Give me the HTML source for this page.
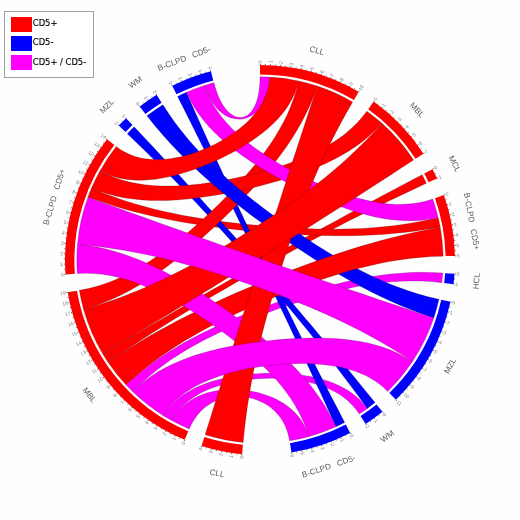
<!DOCTYPE html>
<html lang="en">
<head>
<meta charset="utf-8">
<title>Chord diagram</title>
<style>
html,body{margin:0;padding:0;background:#fff;}
body{width:520px;height:520px;overflow:hidden;position:relative;font-family:"Liberation Sans",sans-serif;}
svg{position:absolute;left:0;top:0;display:block;}
.tk text{font:5px "Liberation Sans",sans-serif;fill:#82828e;}
.lab text{font:8.2px "Liberation Sans",sans-serif;fill:#5c5c5c;}
.legend{position:absolute;left:4.2px;top:10.5px;width:87.4px;height:65.2px;border:1px solid #a0a0a0;background:#fff;box-sizing:content-box;}
.legend .sw{position:absolute;left:6.0px;width:20.6px;height:15px;}
.legend .lb{position:absolute;left:27.6px;font:8.4px "DejaVu Sans","Liberation Sans",sans-serif;color:#000;-webkit-text-stroke:.15px #000;line-height:15px;white-space:nowrap;}
</style>
</head>
<body>
<svg width="520" height="520" viewBox="0 0 520 520">
<rect width="520" height="520" fill="#fefefe"/>
<g class="rib" stroke="#000" stroke-opacity=".55" stroke-width=".35" stroke-linejoin="round">
<path d="M260 76.8A183.2 183.2 0 0 1 269.71 77.06L269.38 81.4 268.84 85.48 268.12 89.32 267.23 92.91 266.18 96.26 264.97 99.37 263.61 102.25 262.12 104.89 260.5 107.31 258.77 109.5 256.94 111.46 255.01 113.2 252.99 114.72 250.9 116.01 248.74 117.09 246.52 117.94 244.26 118.57 241.96 118.98 239.63 119.16 237.28 119.12 234.92 118.85 232.56 118.36 230.21 117.63 227.88 116.67 225.57 115.47 223.3 114.03 221.08 112.35 218.9 110.42 216.8 108.23 214.76 105.79 212.8 103.09 210.94 100.11 209.17 96.86 207.51 93.33 205.97 89.51 204.55 85.39A183.2 183.2 0 0 1 213.88 82.7L215.03 86.8 216.26 90.62 217.56 94.17 218.93 97.45 220.36 100.47 221.85 103.22 223.39 105.73 224.97 107.98 226.59 109.99 228.24 111.75 229.91 113.27 231.61 114.56 233.31 115.61 235.02 116.42 236.72 117.01 238.42 117.36 240.1 117.49 241.76 117.4 243.39 117.07 244.98 116.52 246.53 115.75 248.04 114.76 249.48 113.54 250.87 112.09 252.18 110.42 253.42 108.53 254.57 106.41 255.63 104.06 256.6 101.48 257.46 98.67 258.2 95.62 258.83 92.34 259.33 88.82 259.7 85.06 259.92 81.06 260 76.8Z" fill="#ff00ff"/>
<path d="M422.1 174.65A183.2 183.2 0 0 1 426.4 183.36L413.19 189.5 400.71 195.39 388.91 201.06 377.74 206.5 367.17 211.73 357.14 216.77 347.61 221.61 338.54 226.29 329.88 230.8 321.6 235.16 313.65 239.39 305.98 243.51 298.57 247.53 291.36 251.46 284.31 255.33 277.4 259.16 270.57 262.95 263.79 266.75 257.01 270.56 250.21 274.41 243.34 278.31 236.36 282.31 229.25 286.41 221.95 290.64 214.45 295.03 206.69 299.61 198.65 304.41 190.28 309.44 181.57 314.75 172.46 320.35 162.94 326.29 152.96 332.58 142.49 339.27 131.5 346.39 119.97 353.97 107.85 362.04A183.2 183.2 0 0 1 102.65 353.83L115.65 346.09 127.94 338.82 139.55 331.97 150.53 325.53 160.92 319.46 170.76 313.74 180.09 308.34 188.95 303.22 197.39 298.37 205.45 293.76 213.17 289.35 220.58 285.13 227.75 281.06 234.7 277.13 241.48 273.3 248.13 269.55 254.7 265.85 261.23 262.19 267.76 258.53 274.34 254.85 281.01 251.13 287.81 247.34 294.79 243.46 301.99 239.47 309.46 235.34 317.25 231.05 325.39 226.58 333.92 221.91 342.91 217.01 352.39 211.87 362.4 206.46 372.99 200.75 384.21 194.74 396.11 188.4 408.72 181.71 422.1 174.65Z" fill="#ff0000"/>
<path d="M438.24 217.64A183.2 183.2 0 0 1 440.23 227.15L427.83 229.26 415.86 231 404.3 232.42 393.13 233.54 382.31 234.4 371.82 235.03 361.64 235.46 351.73 235.7 342.08 235.79 332.65 235.74 323.42 235.57 314.37 235.3 305.47 234.94 296.7 234.5 288.03 233.99 279.43 233.42 270.89 232.78 262.38 232.09 253.87 231.33 245.34 230.51 236.77 229.63 228.14 228.66 219.42 227.61 210.58 226.46 201.62 225.2 192.5 223.81 183.2 222.26 173.7 220.54 163.97 218.62 154.01 216.48 143.78 214.09 133.26 211.41 122.44 208.42 111.29 205.07 99.79 201.33 87.92 197.15A183.2 183.2 0 0 1 91.49 188.12L102.62 192.67 113.48 196.75 124.08 200.4 134.44 203.66 144.57 206.57 154.49 209.17 164.22 211.5 173.77 213.57 183.15 215.43 192.38 217.1 201.48 218.6 210.47 219.95 219.36 221.18 228.16 222.29 236.9 223.3 245.59 224.23 254.26 225.08 262.91 225.85 271.56 226.55 280.25 227.18 288.97 227.74 297.76 228.22 306.62 228.61 315.59 228.9 324.67 229.09 333.9 229.15 343.28 229.06 352.84 228.82 362.6 228.39 372.58 227.74 382.8 226.86 393.28 225.7 404.04 224.24 415.11 222.43 426.5 220.25 438.24 217.64Z" fill="#ff0000"/>
<path d="M442.74 273.01A183.2 183.2 0 0 1 441.79 282.68L431.31 281.61 421.08 281.03 411.07 280.89 401.27 281.14 391.66 281.75 382.23 282.68 372.95 283.89 363.8 285.36 354.79 287.05 345.88 288.95 337.07 291.02 328.36 293.24 319.71 295.61 311.14 298.1 302.62 300.7 294.15 303.41 285.73 306.22 277.34 309.12 268.99 312.13 260.67 315.23 252.38 318.44 244.12 321.76 235.88 325.2 227.67 328.79 219.48 332.53 211.33 336.45 203.21 340.57 195.13 344.92 187.09 349.51 179.11 354.4 171.18 359.6 163.32 365.16 155.53 371.11 147.84 377.5 140.24 384.38 132.75 391.79A183.2 183.2 0 0 1 125.94 384.86L134.19 377.48 142.46 370.63 150.75 364.27 159.06 358.35 167.37 352.84 175.68 347.68 183.98 342.84 192.29 338.3 200.58 334 208.87 329.93 217.15 326.06 225.42 322.37 233.7 318.83 241.97 315.42 250.24 312.14 258.53 308.96 266.83 305.89 275.15 302.9 283.5 300 291.89 297.18 300.33 294.46 308.83 291.81 317.41 289.27 326.07 286.83 334.83 284.51 343.7 282.33 352.71 280.29 361.86 278.42 371.18 276.75 380.68 275.3 390.39 274.1 400.32 273.17 410.5 272.56 420.94 272.31 431.68 272.44 442.74 273.01Z" fill="#ff00ff"/>
<path d="M367.3 408.49A183.2 183.2 0 0 1 359.28 413.97L355.9 409.22 352.19 404.91 348.18 401.01 343.87 397.5 339.3 394.35 334.47 391.54 329.41 389.05 324.14 386.86 318.68 384.95 313.05 383.31 307.26 381.92 301.34 380.78 295.31 379.86 289.19 379.17 282.99 378.69 276.74 378.41 270.45 378.33 264.15 378.45 257.86 378.77 251.6 379.29 245.38 380 239.23 380.92 233.17 382.04 227.21 383.38 221.39 384.93 215.71 386.72 210.21 388.75 204.9 391.03 199.79 393.59 194.92 396.43 190.3 399.57 185.96 403.03 181.91 406.84 178.18 411.01 174.78 415.57 171.74 420.54A183.2 183.2 0 0 1 163.35 415.63L166.84 410.55 170.68 405.91 174.87 401.69 179.37 397.84 184.16 394.36 189.24 391.21 194.56 388.37 200.12 385.83 205.89 383.56 211.86 381.54 217.99 379.77 224.27 378.23 230.69 376.91 237.21 375.79 243.82 374.88 250.5 374.17 257.22 373.65 263.97 373.32 270.73 373.17 277.47 373.22 284.18 373.47 290.84 373.92 297.43 374.57 303.91 375.44 310.29 376.54 316.53 377.87 322.62 379.46 328.54 381.33 334.26 383.48 339.78 385.93 345.06 388.72 350.08 391.86 354.84 395.38 359.31 399.3 363.47 403.66 367.3 408.49Z" fill="#ff00ff"/>
<path d="M375.03 402.59A183.2 183.2 0 0 1 367.3 408.49L358.81 396.83 350.67 385.82 342.86 375.43 335.37 365.61 328.19 356.32 321.29 347.52 314.66 339.17 308.27 331.23 302.11 323.65 296.16 316.4 290.39 309.45 284.79 302.75 279.32 296.28 273.97 289.98 268.71 283.83 263.51 277.8 258.35 271.84 253.2 265.94 248.04 260.04 242.83 254.13 237.55 248.17 232.17 242.13 226.65 235.98 220.97 229.69 215.08 223.23 208.97 216.58 202.59 209.71 195.91 202.59 188.9 195.19 181.51 187.5 173.72 179.48 165.48 171.11 156.76 162.37 147.51 153.24 137.7 143.69 127.29 133.71A183.2 183.2 0 0 1 134.17 126.85L144.45 137.76 154.14 148.1 163.26 157.9 171.85 167.2 179.96 176.01 187.62 184.38 194.86 192.34 201.73 199.92 208.25 207.16 214.46 214.09 220.4 220.74 226.11 227.15 231.6 233.35 236.93 239.37 242.12 245.26 247.2 251.04 252.22 256.76 257.19 262.45 262.16 268.15 267.15 273.88 272.2 279.7 277.34 285.64 282.59 291.72 288 298 293.58 304.52 299.37 311.3 305.4 318.38 311.7 325.82 318.29 333.64 325.2 341.89 332.47 350.6 340.11 359.82 348.16 369.59 356.65 379.95 365.59 390.93 375.03 402.59Z" fill="#0000ff"/>
<path d="M344.68 422.45A183.2 183.2 0 0 1 335.95 426.71L329.64 412.88 323.66 399.85 318.01 387.56 312.65 375.96 307.58 365.02 302.77 354.69 298.2 344.91 293.86 335.64 289.72 326.83 285.77 318.45 281.98 310.43 278.34 302.74 274.82 295.32 271.4 288.14 268.07 281.14 264.79 274.28 261.55 267.51 258.34 260.8 255.11 254.08 251.87 247.32 248.57 240.47 245.2 233.49 241.74 226.33 238.17 218.94 234.45 211.28 230.57 203.31 226.51 194.97 222.23 186.23 217.72 177.04 212.96 167.36 207.91 157.14 202.56 146.33 196.87 134.9 190.83 122.79 184.41 109.97 177.58 96.39A183.2 183.2 0 0 1 186.37 92.25L192.44 106.02 198.21 119.02 203.68 131.28 208.89 142.86 213.84 153.79 218.55 164.13 223.03 173.92 227.32 183.21 231.41 192.05 235.33 200.48 239.1 208.54 242.74 216.29 246.27 223.76 249.7 231.01 253.05 238.07 256.35 245 259.61 251.84 262.86 258.63 266.12 265.41 269.41 272.24 272.74 279.15 276.15 286.19 279.65 293.4 283.27 300.83 287.03 308.51 290.96 316.5 295.07 324.84 299.4 333.57 303.96 342.72 308.79 352.35 313.9 362.5 319.33 373.21 325.09 384.51 331.22 396.46 337.74 409.09 344.68 422.45Z" fill="#0000ff"/>
<path d="M298.58 80.91A183.2 183.2 0 0 1 317.33 86L313.88 95.68 310.07 104.93 305.95 113.8 301.53 122.33 296.85 130.54 291.94 138.47 286.82 146.15 281.52 153.6 276.04 160.84 270.43 167.91 264.68 174.82 258.81 181.58 252.84 188.22 246.78 194.75 240.63 201.18 234.4 207.51 228.1 213.76 221.72 219.93 215.27 226.02 208.74 232.03 202.12 237.96 195.42 243.81 188.63 249.56 181.72 255.22 174.69 260.77 167.53 266.2 160.21 271.49 152.72 276.62 145.04 281.58 137.14 286.35 128.99 290.89 120.57 295.18 111.85 299.21 102.8 302.92 93.38 306.3 83.56 309.3A183.2 183.2 0 0 1 79.33 290.34L88.4 288.53 97.16 286.24 105.63 283.51 113.84 280.38 121.83 276.87 129.6 273.04 137.19 268.9 144.61 264.48 151.89 259.83 159.03 254.95 166.05 249.87 172.96 244.62 179.77 239.21 186.49 233.65 193.12 227.97 199.66 222.18 206.12 216.27 212.5 210.27 218.79 204.18 224.98 197.99 231.07 191.72 237.05 185.36 242.9 178.9 248.62 172.35 254.18 165.68 259.57 158.9 264.77 151.99 269.76 144.94 274.51 137.73 278.99 130.34 283.18 122.74 287.05 114.93 290.55 106.87 293.67 98.53 296.36 89.89 298.58 80.91Z" fill="#ff0000"/>
<path d="M366.84 111.18A183.2 183.2 0 0 1 382 123.33L375.79 129.85 369.33 135.85 362.63 141.38 355.71 146.47 348.59 151.16 341.29 155.5 333.81 159.52 326.18 163.25 318.41 166.73 310.52 169.97 302.51 173 294.41 175.83 286.21 178.5 277.94 181.01 269.61 183.37 261.22 185.59 252.78 187.68 244.31 189.64 235.8 191.46 227.28 193.16 218.74 194.71 210.19 196.12 201.64 197.36 193.09 198.43 184.55 199.3 176.01 199.96 167.49 200.39 158.98 200.54 150.49 200.41 142.01 199.94 133.56 199.12 125.12 197.89 116.69 196.23 108.28 194.07 99.88 191.39 91.49 188.12A183.2 183.2 0 0 1 100.05 170.68L107.23 174.34 114.52 177.42 121.92 179.95 129.42 181.99 137.02 183.56 144.72 184.73 152.5 185.51 160.36 185.94 168.29 186.06 176.29 185.9 184.34 185.47 192.44 184.81 200.58 183.94 208.75 182.86 216.93 181.61 225.12 180.18 233.3 178.59 241.46 176.85 249.58 174.96 257.66 172.92 265.68 170.73 273.62 168.39 281.47 165.9 289.21 163.23 296.82 160.39 304.3 157.35 311.6 154.1 318.73 150.62 325.66 146.89 332.37 142.87 338.85 138.55 345.05 133.9 350.98 128.87 356.6 123.43 361.9 117.55 366.84 111.18Z" fill="#ff0000"/>
<path d="M432.75 199.01A183.2 183.2 0 0 1 438.24 217.64L430.05 219.28 421.92 220.33 413.85 220.83 405.82 220.83 397.83 220.37 389.86 219.5 381.92 218.24 374.01 216.64 366.11 214.72 358.23 212.52 350.37 210.06 342.53 207.37 334.72 204.46 326.92 201.37 319.16 198.1 311.44 194.68 303.77 191.11 296.15 187.39 288.59 183.55 281.12 179.58 273.73 175.48 266.45 171.26 259.28 166.91 252.25 162.42 245.38 157.78 238.68 152.99 232.18 148.04 225.89 142.89 219.83 137.54 214.05 131.96 208.55 126.14 203.36 120.04 198.53 113.63 194.06 106.89 190 99.77 186.37 92.25A183.2 183.2 0 0 1 204.55 85.39L207.09 92.41 210.13 99.07 213.63 105.42 217.56 111.48 221.88 117.28 226.57 122.83 231.59 128.17 236.93 133.3 242.54 138.24 248.41 143.02 254.51 147.63 260.82 152.1 267.31 156.42 273.96 160.61 280.76 164.65 287.69 168.57 294.71 172.34 301.83 175.98 309.02 179.47 316.27 182.8 323.57 185.96 330.89 188.95 338.24 191.74 345.61 194.31 352.97 196.66 360.33 198.74 367.68 200.55 375.01 202.05 382.32 203.21 389.6 204 396.86 204.4 404.09 204.35 411.29 203.83 418.47 202.8 425.62 201.2 432.75 199.01Z" fill="#ff00ff"/>
<path d="M438.93 299.32A183.2 183.2 0 0 1 433.76 318.04L422.15 313.99 411.07 309.79 400.49 305.48 390.36 301.06 380.66 296.55 371.33 291.98 362.36 287.35 353.69 282.68 345.31 277.97 337.18 273.24 329.27 268.48 321.56 263.71 314.01 258.91 306.6 254.1 299.31 249.26 292.11 244.4 285 239.5 277.93 234.56 270.91 229.57 263.91 224.51 256.91 219.37 249.91 214.13 242.89 208.77 235.83 203.27 228.74 197.6 221.61 191.75 214.41 185.68 207.17 179.37 199.86 172.78 192.48 165.88 185.04 158.63 177.54 151 169.98 142.95 162.36 134.43 154.68 125.41 146.97 115.83A183.2 183.2 0 0 1 162.87 104.67L168.99 114.05 175.25 122.92 181.65 131.31 188.16 139.28 194.77 146.86 201.46 154.08 208.22 161 215.03 167.63 221.9 174.01 228.82 180.17 235.77 186.14 242.75 191.93 249.76 197.57 256.8 203.08 263.88 208.47 270.98 213.77 278.13 218.97 285.32 224.09 292.56 229.14 299.86 234.12 307.23 239.04 314.69 243.89 322.24 248.68 329.91 253.39 337.71 258.02 345.66 262.56 353.79 267 362.11 271.33 370.64 275.52 379.43 279.57 388.48 283.44 397.84 287.12 407.53 290.57 417.58 293.78 428.04 296.71 438.93 299.32Z" fill="#0000ff"/>
<path d="M308.57 436.64A183.2 183.2 0 0 1 289.6 440.79L288.69 436.26 287.51 432.01 286.08 428.02 284.41 424.3 282.51 420.83 280.4 417.62 278.1 414.64 275.61 411.9 272.95 409.4 270.15 407.12 267.2 405.07 264.13 403.24 260.95 401.63 257.67 400.23 254.32 399.06 250.89 398.1 247.41 397.36 243.9 396.83 240.35 396.53 236.8 396.44 233.24 396.58 229.7 396.94 226.19 397.54 222.73 398.36 219.32 399.43 215.97 400.74 212.71 402.31 209.55 404.13 206.49 406.21 203.56 408.57 200.76 411.21 198.11 414.14 195.62 417.38 193.3 420.92 191.17 424.78 189.24 428.98A183.2 183.2 0 0 1 171.74 420.54L174.35 416.24 177.21 412.32 180.31 408.76 183.64 405.56 187.18 402.69 190.9 400.14 194.8 397.9 198.87 395.94 203.07 394.27 207.41 392.86 211.85 391.72 216.39 390.82 221.01 390.16 225.69 389.73 230.41 389.53 235.16 389.55 239.92 389.79 244.67 390.25 249.4 390.91 254.08 391.78 258.71 392.86 263.25 394.15 267.7 395.65 272.04 397.37 276.25 399.29 280.31 401.44 284.2 403.82 287.9 406.42 291.4 409.27 294.67 412.36 297.71 415.7 300.48 419.31 302.97 423.2 305.16 427.38 307.04 431.85 308.57 436.64Z" fill="#ff00ff"/>
<path d="M269.71 77.06A183.2 183.2 0 0 1 298.58 80.91L296.94 87.17 294.79 93.13 292.16 98.82 289.1 104.26 285.63 109.47 281.77 114.46 277.56 119.25 273.02 123.85 268.19 128.27 263.08 132.53 257.72 136.62 252.14 140.56 246.36 144.34 240.41 147.98 234.3 151.47 228.05 154.8 221.69 157.98 215.24 161 208.71 163.85 202.12 166.53 195.49 169.02 188.83 171.3 182.17 173.37 175.51 175.21 168.87 176.8 162.26 178.12 155.69 179.14 149.17 179.85 142.72 180.22 136.34 180.22 130.05 179.82 123.84 178.99 117.74 177.69 111.73 175.9 105.83 173.58 100.05 170.68A183.2 183.2 0 0 1 116.23 146.46L120.68 149.66 125.28 152.37 130 154.6 134.85 156.39 139.81 157.76 144.87 158.74 150.02 159.35 155.25 159.62 160.54 159.55 165.89 159.18 171.28 158.52 176.7 157.59 182.13 156.4 187.56 154.97 192.98 153.32 198.36 151.45 203.69 149.37 208.95 147.1 214.13 144.65 219.21 142.02 224.17 139.21 228.99 136.24 233.65 133.11 238.13 129.81 242.4 126.36 246.46 122.75 250.27 118.98 253.82 115.04 257.08 110.94 260.02 106.67 262.63 102.23 264.87 97.6 266.73 92.78 268.17 87.75 269.17 82.52 269.71 77.06Z" fill="#ff0000"/>
<path d="M440.23 227.15A183.2 183.2 0 0 1 443.16 256.13L431.62 256.57 420.48 257.38 409.71 258.51 399.28 259.93 389.15 261.61 379.31 263.52 369.72 265.63 360.37 267.92 351.23 270.36 342.27 272.94 333.48 275.63 324.84 278.43 316.31 281.32 307.9 284.29 299.58 287.34 291.32 290.46 283.13 293.65 274.98 296.91 266.86 300.25 258.76 303.67 250.67 307.19 242.57 310.8 234.47 314.53 226.34 318.4 218.19 322.42 210.01 326.61 201.79 331.01 193.53 335.63 185.23 340.5 176.89 345.67 168.5 351.16 160.06 357.01 151.59 363.26 143.07 369.95 134.52 377.14 125.94 384.86A183.2 183.2 0 0 1 107.85 362.04L118.89 354.77 129.58 348.01 139.94 341.71 149.97 335.82 159.71 330.32 169.16 325.16 178.34 320.32 187.28 315.75 195.99 311.43 204.5 307.33 212.82 303.43 220.99 299.69 229.02 296.09 236.93 292.62 244.76 289.26 252.52 285.98 260.24 282.76 267.96 279.61 275.69 276.49 283.47 273.41 291.32 270.36 299.28 267.32 307.37 264.3 315.64 261.28 324.1 258.27 332.79 255.27 341.75 252.28 351.01 249.31 360.6 246.36 370.56 243.43 380.93 240.55 391.75 237.71 403.05 234.94 414.87 232.24 427.25 229.64 440.23 227.15Z" fill="#ff0000"/>
<path d="M335.95 426.71A183.2 183.2 0 0 1 308.57 436.64L306.06 428.62 303.06 420.93 299.6 413.55 295.73 406.46 291.48 399.61 286.88 393 281.96 386.59 276.74 380.36 271.27 374.31 265.55 368.41 259.62 362.64 253.5 357.01 247.21 351.49 240.76 346.09 234.18 340.8 227.47 335.62 220.66 330.55 213.75 325.59 206.77 320.75 199.7 316.04 192.57 311.46 185.37 307.04 178.12 302.78 170.81 298.7 163.45 294.83 156.03 291.18 148.55 287.78 141 284.66 133.39 281.84 125.7 279.35 117.92 277.24 110.05 275.53 102.07 274.27 93.96 273.5 85.71 273.25 77.3 273.58A183.2 183.2 0 0 1 77.46 244.46L87.29 245.56 96.81 247.12 106.06 249.12 115.05 251.5 123.82 254.23 132.38 257.28 140.77 260.61 148.99 264.2 157.06 268.01 165.01 272.02 172.84 276.22 180.57 280.58 188.2 285.08 195.75 289.71 203.22 294.45 210.63 299.31 217.96 304.26 225.23 309.32 232.43 314.47 239.56 319.71 246.62 325.05 253.6 330.49 260.5 336.05 267.3 341.73 274 347.55 280.58 353.51 287.03 359.65 293.33 365.97 299.47 372.51 305.42 379.29 311.17 386.33 316.69 393.67 321.95 401.35 326.94 409.38 331.61 417.83 335.95 426.71Z" fill="#ff00ff"/>
<path d="M317.33 86A183.2 183.2 0 0 1 352.68 101.97L346.18 113.31 340.16 124.29 334.58 134.93 329.4 145.24 324.58 155.25 320.09 164.97 315.9 174.43 311.96 183.63 308.27 192.61 304.78 201.39 301.47 209.98 298.31 218.41 295.3 226.7 292.4 234.88 289.59 242.97 286.87 251 284.22 258.98 281.63 266.96 279.09 274.95 276.58 282.99 274.11 291.09 271.67 299.3 269.25 307.63 266.87 316.13 264.51 324.82 262.19 333.73 259.91 342.89 257.68 352.34 255.5 362.11 253.39 372.24 251.37 382.75 249.45 393.69 247.64 405.09 245.97 416.99 244.46 429.42 243.13 442.42A183.2 183.2 0 0 1 205.1 434.78L209.7 420.15 214.04 406.36 218.14 393.37 222.01 381.13 225.67 369.59 229.12 358.69 232.4 348.38 235.5 338.63 238.45 329.37 241.27 320.56 243.95 312.14 246.53 304.08 249.02 296.31 251.43 288.79 253.78 281.47 256.09 274.29 258.36 267.22 260.62 260.2 262.88 253.18 265.16 246.11 267.47 238.94 269.83 231.62 272.26 224.1 274.77 216.34 277.37 208.29 280.1 199.88 282.95 191.08 285.95 181.84 289.12 172.1 292.47 161.83 296.02 150.96 299.78 139.44 303.77 127.24 308.02 114.3 312.53 100.57 317.33 86Z" fill="#ff0000"/>
<path d="M412.47 361.56A183.2 183.2 0 0 1 387.67 391.39L382.82 386.83 377.7 382.78 372.31 379.22 366.68 376.11 360.82 373.42 354.74 371.11 348.46 369.16 342.01 367.54 335.39 366.22 328.62 365.19 321.73 364.42 314.72 363.9 307.62 363.61 300.45 363.54 293.22 363.67 285.95 363.99 278.66 364.51 271.37 365.21 264.1 366.08 256.87 367.14 249.7 368.37 242.61 369.79 235.62 371.39 228.74 373.19 222.01 375.2 215.44 377.42 209.05 379.88 202.86 382.57 196.9 385.54 191.19 388.79 185.74 392.34 180.59 396.22 175.75 400.47 171.25 405.1 167.11 410.14 163.35 415.63A183.2 183.2 0 0 1 132.75 391.79L138.76 385.99 145.04 380.73 151.56 375.95 158.33 371.62 165.3 367.7 172.48 364.14 179.85 360.92 187.38 358 195.06 355.36 202.88 352.96 210.83 350.8 218.88 348.83 227.03 347.06 235.26 345.46 243.56 344.03 251.91 342.75 260.3 341.62 268.71 340.64 277.15 339.8 285.59 339.11 294.02 338.58 302.43 338.21 310.81 338.01 319.15 338 327.43 338.19 335.66 338.61 343.81 339.28 351.88 340.22 359.87 341.46 367.75 343.04 375.52 344.98 383.17 347.32 390.7 350.11 398.1 353.38 405.36 357.18 412.47 361.56Z" fill="#ff00ff"/>
<path d="M382 123.33A183.2 183.2 0 0 1 413.56 160.09L400.81 168.37 388.77 176.16 377.4 183.5 366.66 190.4 356.51 196.91 346.9 203.06 337.8 208.86 329.16 214.35 320.95 219.56 313.11 224.51 305.61 229.25 298.41 233.78 291.46 238.15 284.72 242.38 278.15 246.49 271.71 250.52 265.34 254.49 259.02 258.43 252.7 262.37 246.33 266.33 239.88 270.34 233.29 274.43 226.52 278.61 219.54 282.93 212.3 287.4 204.74 292.04 196.84 296.9 188.54 301.98 179.81 307.31 170.59 312.92 160.85 318.84 150.53 325.09 139.6 331.68 128 338.66 115.7 346.03 102.65 353.83A183.2 183.2 0 0 1 83.56 309.3L95.43 305.82 106.77 302.17 117.62 298.39 128 294.49 137.97 290.49 147.55 286.41 156.79 282.26 165.71 278.05 174.35 273.81 182.73 269.52 190.89 265.21 198.86 260.87 206.66 256.51 214.31 252.13 221.85 247.72 229.29 243.28 236.66 238.8 243.97 234.28 251.25 229.71 258.52 225.06 265.78 220.34 273.06 215.52 280.37 210.58 287.72 205.5 295.13 200.26 302.59 194.83 310.13 189.19 317.75 183.31 325.45 177.15 333.25 170.69 341.13 163.88 349.11 156.7 357.19 149.09 365.37 141.03 373.64 132.45 382 123.33Z" fill="#ff0000"/>
<path d="M433.76 318.04A183.2 183.2 0 0 1 412.47 361.56L401.8 354.62 391.41 348.19 381.28 342.22 371.41 336.68 361.77 331.51 352.37 326.68 343.18 322.16 334.19 317.92 325.38 313.93 316.74 310.15 308.24 306.55 299.87 303.13 291.62 299.84 283.46 296.68 275.36 293.62 267.32 290.65 259.3 287.76 251.29 284.93 243.26 282.15 235.18 279.42 227.04 276.73 218.8 274.08 210.45 271.47 201.94 268.89 193.26 266.36 184.38 263.88 175.26 261.45 165.88 259.09 156.2 256.81 146.2 254.61 135.84 252.53 125.09 250.57 113.91 248.76 102.27 247.12 90.13 245.68 77.46 244.46A183.2 183.2 0 0 1 87.92 197.15L102.26 202.38 115.78 207.3 128.54 211.92 140.58 216.26 151.95 220.36 162.7 224.21 172.87 227.85 182.51 231.29 191.67 234.55 200.4 237.65 208.74 240.6 216.75 243.43 224.47 246.15 231.95 248.78 239.24 251.35 246.38 253.85 253.43 256.32 260.43 258.77 267.43 261.21 274.48 263.67 281.63 266.16 288.93 268.7 296.42 271.3 304.15 273.98 312.18 276.76 320.55 279.64 329.31 282.66 338.5 285.82 348.19 289.13 358.41 292.62 369.22 296.3 380.66 300.18 392.79 304.28 405.65 308.62 419.29 313.2 433.76 318.04Z" fill="#ff00ff"/>
</g>
<g class="ring">
<path d="M260 65A195 195 0 0 1 358.65 91.8L353.9 99.9A185.6 185.6 0 0 0 260 74.4Z" fill="#ff0000"/>
<path d="M373.72 101.59A195 195 0 0 1 423.45 153.65L415.57 158.78A185.6 185.6 0 0 0 368.24 109.23Z" fill="#ff0000"/>
<path d="M432.54 169.15A195 195 0 0 1 437.12 178.43L428.58 182.36A185.6 185.6 0 0 0 424.23 173.53Z" fill="#ff0000"/>
<path d="M443.88 195.08A195 195 0 0 1 454.96 255.88L445.56 256.08A185.6 185.6 0 0 0 435.01 198.21Z" fill="#ff0000"/>
<path d="M454.51 273.84A195 195 0 0 1 453.5 284.14L444.17 282.97A185.6 185.6 0 0 0 445.13 273.18Z" fill="#0000ff"/>
<path d="M450.46 301.85A195 195 0 0 1 395.89 399.85L389.34 393.11A185.6 185.6 0 0 0 441.28 299.83Z" fill="#0000ff"/>
<path d="M382.43 411.77A195 195 0 0 1 365.68 423.88L360.58 415.98A185.6 185.6 0 0 0 376.53 404.46Z" fill="#0000ff"/>
<path d="M350.14 432.92A195 195 0 0 1 291.5 452.44L289.98 443.16A185.6 185.6 0 0 0 345.79 424.58Z" fill="#0000ff"/>
<path d="M242.05 454.17A195 195 0 0 1 201.56 446.04L204.38 437.07A185.6 185.6 0 0 0 242.91 444.81Z" fill="#ff0000"/>
<path d="M184.68 439.87A195 195 0 0 1 67.69 292.3L76.96 290.74A185.6 185.6 0 0 0 188.31 431.2Z" fill="#ff0000"/>
<path d="M65.54 274.45A195 195 0 0 1 106.96 139.15L114.34 144.97A185.6 185.6 0 0 0 74.91 273.76Z" fill="#ff0000"/>
<path d="M118.74 125.57A195 195 0 0 1 126.07 118.27L132.52 125.1A185.6 185.6 0 0 0 125.55 132.05Z" fill="#0000ff"/>
<path d="M139.68 106.54A195 195 0 0 1 156.61 94.66L161.59 102.63A185.6 185.6 0 0 0 145.48 113.94Z" fill="#0000ff"/>
<path d="M172.27 85.85A195 195 0 0 1 210.91 71.28L213.28 80.38A185.6 185.6 0 0 0 176.5 94.24Z" fill="#0000ff"/>
</g>
<path d="M260 65L260 63.7M265.17 65.07L265.2 64.07M270.34 65.27L270.41 63.98M275.5 65.62L275.58 64.62M280.65 66.1L280.79 64.8M285.78 66.71L285.92 65.72M290.9 67.46L291.11 66.18M295.99 68.35L296.18 67.37M301.06 69.37L301.34 68.1M306.11 70.53L306.34 69.56M311.11 71.82L311.45 70.56M316.09 73.24L316.37 72.28M321.02 74.79L321.43 73.56M325.91 76.48L326.25 75.54M330.75 78.29L331.22 77.08M335.55 80.23L335.93 79.31M340.29 82.3L340.82 81.11M344.97 84.49L345.41 83.59M349.6 86.8L350.19 85.65M354.16 89.24L354.64 88.36M358.65 91.8L359.31 90.67M373.72 101.59L374.48 100.54M377.88 104.66L378.49 103.87M381.96 107.85L382.77 106.83M385.95 111.13L386.6 110.37M389.85 114.53L390.72 113.56M393.67 118.02L394.35 117.29M397.38 121.62L398.3 120.69M401.01 125.31L401.73 124.62M404.53 129.09L405.49 128.22M407.95 132.97L408.71 132.32M411.27 136.94L412.27 136.12M414.48 141L415.27 140.38M417.58 145.13L418.63 144.37M420.57 149.35L421.39 148.79M423.45 153.65L424.54 152.94M432.54 169.15L433.69 168.54M434.89 173.76L435.79 173.32M437.12 178.43L438.3 177.88M443.88 195.08L445.1 194.65M445.53 199.98L446.48 199.67M447.06 204.92L448.31 204.55M448.45 209.9L449.42 209.64M449.72 214.91L450.98 214.61M450.85 219.96L451.82 219.76M451.84 225.04L453.12 224.8M452.7 230.14L453.69 229.98M453.42 235.26L454.71 235.09M454.01 240.39L455.01 240.29M454.46 245.55L455.76 245.45M454.78 250.71L455.78 250.66M454.96 255.88L456.26 255.85M454.51 273.84L455.8 273.94M454.07 279L455.07 279.09M453.5 284.14L454.79 284.3M450.46 301.85L451.73 302.13M449.28 306.89L450.25 307.13M447.97 311.89L449.22 312.24M446.53 316.86L447.48 317.15M444.95 321.78L446.19 322.19M443.25 326.67L444.19 327.01M441.42 331.5L442.63 331.98M439.46 336.29L440.38 336.68M437.37 341.02L438.55 341.56M435.16 345.69L436.06 346.13M432.83 350.31L433.98 350.91M430.37 354.86L431.25 355.35M427.8 359.35L428.91 360.01M425.1 363.76L425.95 364.29M422.29 368.1L423.37 368.82M419.37 372.37L420.19 372.94M416.33 376.55L417.38 377.33M413.19 380.66L413.97 381.28M409.93 384.68L410.93 385.51M406.57 388.61L407.33 389.27M403.11 392.45L404.07 393.34M399.55 396.2L400.26 396.9M395.89 399.85L396.79 400.79M382.43 411.77L383.25 412.78M378.37 414.97L378.97 415.76M374.22 418.05L374.98 419.1M369.98 421.02L370.55 421.85M365.68 423.88L366.38 424.98M350.14 432.92L350.74 434.07M345.52 435.25L345.96 436.14M340.84 437.45L341.38 438.64M336.11 439.53L336.5 440.45M331.32 441.49L331.8 442.7M326.48 443.32L326.82 444.26M321.6 445.02L322.01 446.25M316.67 446.58L316.96 447.54M311.7 448.02L312.05 449.27M306.7 449.33L306.94 450.3M301.66 450.5L301.94 451.77M296.59 451.54L296.78 452.52M291.5 452.44L291.71 453.72M242.05 454.17L241.93 455.47M236.9 453.63L236.79 454.62M231.78 452.95L231.59 454.23M226.67 452.13L226.5 453.12M221.59 451.18L221.33 452.45M216.53 450.09L216.31 451.07M211.5 448.87L211.18 450.13M206.51 447.52L206.24 448.48M201.56 446.04L201.17 447.28M184.68 439.87L184.18 441.07M179.94 437.81L179.53 438.72M175.25 435.62L174.68 436.79M170.62 433.31L170.16 434.2M166.06 430.88L165.43 432.02M161.56 428.33L161.05 429.19M157.13 425.66L156.44 426.76M152.77 422.87L152.22 423.71M148.49 419.97L147.75 421.04M144.29 416.96L143.69 417.76M140.17 413.83L139.37 414.86M136.13 410.6L135.49 411.37M132.18 407.26L131.33 408.25M128.32 403.82L127.64 404.56M124.55 400.28L123.65 401.21M120.88 396.64L120.16 397.34M117.3 392.9L116.35 393.79M113.83 389.07L113.08 389.73M110.46 385.15L109.46 385.98M107.19 381.14L106.41 381.76M104.03 377.04L102.99 377.82M100.98 372.87L100.17 373.45M98.05 368.61L96.97 369.33M95.22 364.28L94.38 364.81M92.52 359.87L91.4 360.54M89.93 355.39L89.05 355.88M87.46 350.85L86.31 351.46M85.11 346.24L84.21 346.68M82.88 341.57L81.7 342.12M80.78 336.85L79.86 337.24M78.81 332.07L77.6 332.55M76.96 327.24L76.02 327.58M75.24 322.36L74.01 322.78M73.65 317.44L72.7 317.73M72.19 312.48L70.94 312.83M70.87 307.48L69.9 307.72M69.68 302.45L68.41 302.73M68.62 297.38L67.64 297.58M67.69 292.3L66.41 292.51M65.54 274.45L64.24 274.55M65.22 269.29L64.22 269.34M65.04 264.12L63.74 264.15M65 258.95L64 258.95M65.1 253.78L63.8 253.74M65.33 248.61L64.33 248.56M65.7 243.46L64.41 243.35M66.21 238.31L65.22 238.2M66.85 233.18L65.57 233M67.63 228.06L66.65 227.9M68.55 222.97L67.27 222.73M69.6 217.91L68.62 217.69M70.78 212.88L69.52 212.56M72.1 207.87L71.13 207.61M73.54 202.91L72.3 202.53M75.12 197.99L74.18 197.67M76.83 193.1L75.61 192.66M78.67 188.27L77.74 187.9M80.64 183.49L79.44 182.98M82.73 178.76L81.82 178.34M84.95 174.09L83.78 173.51M87.29 169.47L86.4 169.01M89.75 164.93L88.61 164.29M92.33 160.44L91.47 159.93M95.03 156.03L93.93 155.34M97.84 151.69L97.01 151.14M100.77 147.43L99.71 146.68M103.81 143.25L103.01 142.65M106.96 139.15L105.94 138.34M118.74 125.57L117.8 124.68M122.36 121.87L121.65 121.16M126.07 118.27L125.17 117.33M139.68 106.54L138.88 105.52M143.8 103.41L143.2 102.6M147.99 100.38L147.24 99.31M152.26 97.46L151.71 96.63M156.61 94.66L155.92 93.56M172.27 85.85L171.69 84.69M176.92 83.58L176.5 82.68M181.63 81.44L181.11 80.25M186.39 79.43L186.01 78.5M191.21 77.54L190.75 76.32M196.07 75.78L195.74 74.83M200.98 74.15L200.58 72.91M205.93 72.65L205.65 71.69M210.91 71.28L210.59 70.02" stroke="#222" stroke-width=".7" fill="none"/>
<g class="tk">
<text transform="translate(260 63) rotate(-90)" text-anchor="start" dy=".35em">0</text>
<text transform="translate(270.44 63.28) rotate(-86.96)" text-anchor="start" dy=".35em">1</text>
<text transform="translate(280.86 64.11) rotate(-83.92)" text-anchor="start" dy=".35em">2</text>
<text transform="translate(291.22 65.49) rotate(-80.88)" text-anchor="start" dy=".35em">3</text>
<text transform="translate(301.49 67.42) rotate(-77.84)" text-anchor="start" dy=".35em">4</text>
<text transform="translate(311.64 69.89) rotate(-74.8)" text-anchor="start" dy=".35em">5</text>
<text transform="translate(321.64 72.89) rotate(-71.76)" text-anchor="start" dy=".35em">6</text>
<text transform="translate(331.48 76.42) rotate(-68.73)" text-anchor="start" dy=".35em">7</text>
<text transform="translate(341.11 80.47) rotate(-65.69)" text-anchor="start" dy=".35em">8</text>
<text transform="translate(350.52 85.03) rotate(-62.65)" text-anchor="start" dy=".35em">9</text>
<text transform="translate(359.66 90.07) rotate(-59.61)" text-anchor="start" dy=".35em">10</text>
<text transform="translate(374.89 99.97) rotate(-54.33)" text-anchor="start" dy=".35em">0</text>
<text transform="translate(383.21 106.28) rotate(-51.29)" text-anchor="start" dy=".35em">1</text>
<text transform="translate(391.19 113.03) rotate(-48.25)" text-anchor="start" dy=".35em">2</text>
<text transform="translate(398.79 120.2) rotate(-45.21)" text-anchor="start" dy=".35em">3</text>
<text transform="translate(406.01 127.75) rotate(-42.17)" text-anchor="start" dy=".35em">4</text>
<text transform="translate(412.82 135.68) rotate(-39.13)" text-anchor="start" dy=".35em">5</text>
<text transform="translate(419.19 143.96) rotate(-36.09)" text-anchor="start" dy=".35em">6</text>
<text transform="translate(425.12 152.56) rotate(-33.05)" text-anchor="start" dy=".35em">7</text>
<text transform="translate(434.31 168.22) rotate(-27.77)" text-anchor="start" dy=".35em">0</text>
<text transform="translate(438.93 177.59) rotate(-24.73)" text-anchor="start" dy=".35em">1</text>
<text transform="translate(445.76 194.41) rotate(-19.45)" text-anchor="start" dy=".35em">0</text>
<text transform="translate(448.98 204.35) rotate(-16.41)" text-anchor="start" dy=".35em">1</text>
<text transform="translate(451.66 214.45) rotate(-13.37)" text-anchor="start" dy=".35em">2</text>
<text transform="translate(453.81 224.68) rotate(-10.33)" text-anchor="start" dy=".35em">3</text>
<text transform="translate(455.41 235) rotate(-7.29)" text-anchor="start" dy=".35em">4</text>
<text transform="translate(456.46 245.4) rotate(-4.25)" text-anchor="start" dy=".35em">5</text>
<text transform="translate(456.96 255.84) rotate(-1.21)" text-anchor="start" dy=".35em">6</text>
<text transform="translate(456.5 273.99) rotate(4.07)" text-anchor="start" dy=".35em">0</text>
<text transform="translate(455.48 284.38) rotate(7.11)" text-anchor="start" dy=".35em">1</text>
<text transform="translate(452.41 302.28) rotate(12.39)" text-anchor="start" dy=".35em">0</text>
<text transform="translate(449.9 312.42) rotate(15.43)" text-anchor="start" dy=".35em">1</text>
<text transform="translate(446.85 322.42) rotate(18.47)" text-anchor="start" dy=".35em">2</text>
<text transform="translate(443.28 332.23) rotate(21.51)" text-anchor="start" dy=".35em">3</text>
<text transform="translate(439.19 341.85) rotate(24.55)" text-anchor="start" dy=".35em">4</text>
<text transform="translate(434.6 351.24) rotate(27.59)" text-anchor="start" dy=".35em">5</text>
<text transform="translate(429.52 360.36) rotate(30.63)" text-anchor="start" dy=".35em">6</text>
<text transform="translate(423.96 369.21) rotate(33.67)" text-anchor="start" dy=".35em">7</text>
<text transform="translate(417.94 377.75) rotate(36.71)" text-anchor="start" dy=".35em">8</text>
<text transform="translate(411.47 385.96) rotate(39.75)" text-anchor="start" dy=".35em">9</text>
<text transform="translate(404.58 393.81) rotate(42.78)" text-anchor="start" dy=".35em">10</text>
<text transform="translate(397.28 401.29) rotate(45.82)" text-anchor="start" dy=".35em">11</text>
<text transform="translate(383.69 413.33) rotate(51.11)" text-anchor="start" dy=".35em">0</text>
<text transform="translate(375.39 419.67) rotate(54.15)" text-anchor="start" dy=".35em">1</text>
<text transform="translate(366.76 425.56) rotate(57.19)" text-anchor="start" dy=".35em">2</text>
<text transform="translate(351.06 434.69) rotate(62.47)" text-anchor="start" dy=".35em">0</text>
<text transform="translate(341.67 439.27) rotate(65.51)" text-anchor="start" dy=".35em">1</text>
<text transform="translate(332.05 443.35) rotate(68.55)" text-anchor="start" dy=".35em">2</text>
<text transform="translate(322.23 446.91) rotate(71.59)" text-anchor="start" dy=".35em">3</text>
<text transform="translate(312.23 449.95) rotate(74.62)" text-anchor="start" dy=".35em">4</text>
<text transform="translate(302.09 452.45) rotate(77.66)" text-anchor="start" dy=".35em">5</text>
<text transform="translate(291.83 454.41) rotate(80.7)" text-anchor="start" dy=".35em">6</text>
<text transform="translate(241.86 456.16) rotate(275.28)" text-anchor="end" dy=".35em">0</text>
<text transform="translate(231.49 454.93) rotate(278.32)" text-anchor="end" dy=".35em">1</text>
<text transform="translate(221.19 453.14) rotate(281.36)" text-anchor="end" dy=".35em">2</text>
<text transform="translate(211.01 450.81) rotate(284.4)" text-anchor="end" dy=".35em">3</text>
<text transform="translate(200.96 447.94) rotate(287.44)" text-anchor="end" dy=".35em">4</text>
<text transform="translate(183.91 441.71) rotate(292.72)" text-anchor="end" dy=".35em">0</text>
<text transform="translate(174.38 437.42) rotate(295.76)" text-anchor="end" dy=".35em">1</text>
<text transform="translate(165.09 432.63) rotate(298.8)" text-anchor="end" dy=".35em">2</text>
<text transform="translate(156.07 427.36) rotate(301.84)" text-anchor="end" dy=".35em">3</text>
<text transform="translate(147.35 421.61) rotate(304.88)" text-anchor="end" dy=".35em">4</text>
<text transform="translate(138.94 415.41) rotate(307.92)" text-anchor="end" dy=".35em">5</text>
<text transform="translate(130.87 408.77) rotate(310.96)" text-anchor="end" dy=".35em">6</text>
<text transform="translate(123.16 401.72) rotate(314)" text-anchor="end" dy=".35em">7</text>
<text transform="translate(115.84 394.26) rotate(317.04)" text-anchor="end" dy=".35em">8</text>
<text transform="translate(108.92 386.43) rotate(320.07)" text-anchor="end" dy=".35em">9</text>
<text transform="translate(102.43 378.24) rotate(323.11)" text-anchor="end" dy=".35em">10</text>
<text transform="translate(96.39 369.72) rotate(326.15)" text-anchor="end" dy=".35em">11</text>
<text transform="translate(90.8 360.89) rotate(329.19)" text-anchor="end" dy=".35em">12</text>
<text transform="translate(85.69 351.78) rotate(332.23)" text-anchor="end" dy=".35em">13</text>
<text transform="translate(81.07 342.41) rotate(335.27)" text-anchor="end" dy=".35em">14</text>
<text transform="translate(76.95 332.81) rotate(338.31)" text-anchor="end" dy=".35em">15</text>
<text transform="translate(73.35 323) rotate(341.35)" text-anchor="end" dy=".35em">16</text>
<text transform="translate(70.27 313.02) rotate(344.39)" text-anchor="end" dy=".35em">17</text>
<text transform="translate(67.72 302.88) rotate(347.43)" text-anchor="end" dy=".35em">18</text>
<text transform="translate(65.72 292.63) rotate(350.47)" text-anchor="end" dy=".35em">19</text>
<text transform="translate(63.54 274.6) rotate(355.75)" text-anchor="end" dy=".35em">0</text>
<text transform="translate(63.04 264.16) rotate(358.79)" text-anchor="end" dy=".35em">1</text>
<text transform="translate(63.1 253.72) rotate(361.83)" text-anchor="end" dy=".35em">2</text>
<text transform="translate(63.71 243.29) rotate(364.87)" text-anchor="end" dy=".35em">3</text>
<text transform="translate(64.87 232.9) rotate(367.91)" text-anchor="end" dy=".35em">4</text>
<text transform="translate(66.58 222.59) rotate(370.95)" text-anchor="end" dy=".35em">5</text>
<text transform="translate(68.84 212.39) rotate(373.98)" text-anchor="end" dy=".35em">6</text>
<text transform="translate(71.63 202.32) rotate(377.02)" text-anchor="end" dy=".35em">7</text>
<text transform="translate(74.95 192.42) rotate(380.06)" text-anchor="end" dy=".35em">8</text>
<text transform="translate(78.8 182.7) rotate(383.1)" text-anchor="end" dy=".35em">9</text>
<text transform="translate(83.15 173.2) rotate(386.14)" text-anchor="end" dy=".35em">10</text>
<text transform="translate(88 163.95) rotate(389.18)" text-anchor="end" dy=".35em">11</text>
<text transform="translate(93.34 154.97) rotate(392.22)" text-anchor="end" dy=".35em">12</text>
<text transform="translate(99.14 146.28) rotate(395.26)" text-anchor="end" dy=".35em">13</text>
<text transform="translate(105.4 137.91) rotate(398.3)" text-anchor="end" dy=".35em">14</text>
<text transform="translate(117.29 124.19) rotate(403.58)" text-anchor="end" dy=".35em">0</text>
<text transform="translate(124.69 116.82) rotate(406.62)" text-anchor="end" dy=".35em">1</text>
<text transform="translate(138.45 104.97) rotate(411.9)" text-anchor="end" dy=".35em">0</text>
<text transform="translate(146.84 98.74) rotate(414.94)" text-anchor="end" dy=".35em">1</text>
<text transform="translate(155.55 92.97) rotate(417.98)" text-anchor="end" dy=".35em">2</text>
<text transform="translate(171.37 84.06) rotate(423.26)" text-anchor="end" dy=".35em">0</text>
<text transform="translate(180.83 79.61) rotate(426.3)" text-anchor="end" dy=".35em">1</text>
<text transform="translate(190.5 75.67) rotate(429.34)" text-anchor="end" dy=".35em">2</text>
<text transform="translate(200.37 72.24) rotate(432.38)" text-anchor="end" dy=".35em">3</text>
<text transform="translate(210.41 69.34) rotate(435.42)" text-anchor="end" dy=".35em">4</text>
</g>
<g class="lab"><text transform="translate(316.96 50.3) rotate(15.2)" text-anchor="middle" dy=".36em">CLL</text><text transform="translate(417.13 109.9) rotate(46.31)" text-anchor="middle" dy=".36em">MBL</text><text transform="translate(454.89 163.89) rotate(63.75)" text-anchor="middle" dy=".36em">MCL</text><text transform="translate(472.01 221.36) rotate(79.67)" text-anchor="middle" dy=".36em">B-CLPD   CD5+</text><text transform="translate(476.27 281.17) rotate(-84.41)" text-anchor="middle" dy=".36em">HCL</text><text transform="translate(449.85 365.71) rotate(-60.89)" text-anchor="middle" dy=".36em">MZL</text><text transform="translate(387.28 436.12) rotate(-35.85)" text-anchor="middle" dy=".36em">WM</text><text transform="translate(328.64 466.17) rotate(-18.41)" text-anchor="middle" dy=".36em">B-CLPD   CD5-</text><text transform="translate(217.19 473.04) rotate(11.36)" text-anchor="middle" dy=".36em">CLL</text><text transform="translate(89.72 394.99) rotate(51.59)" text-anchor="middle" dy=".36em">MBL</text><text transform="translate(53.94 196.91) rotate(-72.98)" text-anchor="middle" dy=".36em">B-CLPD   CD5+</text><text transform="translate(106.62 106.08) rotate(-44.9)" text-anchor="middle" dy=".36em">MZL</text><text transform="translate(135.18 82.12) rotate(-35.06)" text-anchor="middle" dy=".36em">WM</text><text transform="translate(183.97 58.36) rotate(-20.66)" text-anchor="middle" dy=".36em">B-CLPD   CD5-</text></g>
</svg>
<div class="legend">
<div class="sw" style="top:5.8px;background:#ff0000"></div><div class="lb" style="top:4.1px">CD5+</div>
<div class="sw" style="top:24.9px;background:#0000ff"></div><div class="lb" style="top:23.7px">CD5-</div>
<div class="sw" style="top:43.9px;background:#ff00ff"></div><div class="lb" style="top:43.4px">CD5+ / CD5-</div>
</div>
</body>
</html>
